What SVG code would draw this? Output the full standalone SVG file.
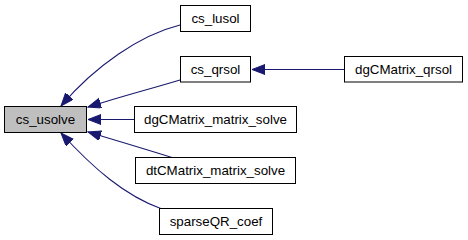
<svg xmlns="http://www.w3.org/2000/svg" width="468" height="240" viewBox="0 0 468 240">
  <style>
    .node rect { fill: #ffffff; stroke: #000000; stroke-width: 1; }
    .node.current rect { fill: #bfbfbf; }
    .node text { font-family: "Liberation Sans", Arial, Helvetica, sans-serif; font-size: 13.33px; fill: #000000; text-anchor: middle; }
    .edge { fill: none; stroke: #191970; stroke-width: 1.1; marker-end: url(#arrow); }
  </style>
  <defs>
    <marker id="arrow" markerUnits="userSpaceOnUse" markerWidth="14" markerHeight="11" refX="13" refY="5" orient="auto">
      <path d="M0,0 L13,5 L0,10 z" fill="#191970" stroke="#191970" stroke-width="1"/>
    </marker>
  </defs>

  <rect width="468" height="240" fill="#ffffff"/>

  <!-- call edges: caller -> callee, arrowhead at the callee -->
  <g id="edges">
    <path class="edge" d="M180,25 C140,35 95,66 61,106"/>
    <path class="edge" d="M180,80 C150,89 120,97 88,107"/>
    <path class="edge" d="M344,69.5 L252,69.5"/>
    <path class="edge" d="M134,119.5 L88,119.5"/>
    <path class="edge" d="M172,157.5 C145,149 118,141 88,132"/>
    <path class="edge" d="M162,209 C125,196 93,168 61,133"/>
  </g>

  <g id="cs_usolve" class="node current">
    <rect x="4.5" y="106.5" width="82" height="26"/>
    <text x="45.5" y="124">cs_usolve</text>
  </g>
  <g id="cs_lusol" class="node">
    <rect x="180.5" y="5.5" width="70" height="26"/>
    <text x="215.5" y="23">cs_lusol</text>
  </g>
  <g id="cs_qrsol" class="node">
    <rect x="180.5" y="56.5" width="70" height="25.5"/>
    <text x="215.5" y="74">cs_qrsol</text>
  </g>
  <g id="dgCMatrix_qrsol" class="node">
    <rect x="344.5" y="56.5" width="118" height="25.5"/>
    <text x="403.5" y="74">dgCMatrix_qrsol</text>
  </g>
  <g id="dgCMatrix_matrix_solve" class="node">
    <rect x="134.5" y="106.5" width="162" height="26"/>
    <text x="215.5" y="124">dgCMatrix_matrix_solve</text>
  </g>
  <g id="dtCMatrix_matrix_solve" class="node">
    <rect x="135.5" y="157.5" width="160" height="26"/>
    <text x="215.5" y="175">dtCMatrix_matrix_solve</text>
  </g>
  <g id="sparseQR_coef" class="node">
    <rect x="159.5" y="208.5" width="113" height="26"/>
    <text x="216" y="226">sparseQR_coef</text>
  </g>
</svg>
